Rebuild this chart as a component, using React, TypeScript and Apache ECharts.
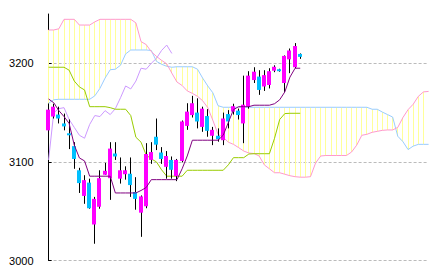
import React, { useEffect, useRef } from "react";
import * as echarts from "echarts";

// 75 sessions on the x axis: 50 candles + 25 sessions of the forward-shifted cloud
const days = [
  "1","2","3","4","5","6","7","8","9","10","11","12","13","14","15","16","17","18","19","20",
  "21","22","23","24","25","26","27","28","29","30","31","32","33","34","35","36","37","38","39","40",
  "41","42","43","44","45","46","47","48","49","50","51","52","53","54","55","56","57","58","59","60",
  "61","62","63","64","65","66","67","68","69","70","71","72","73","74","75",
];

const candleOpen = [3132, 3146, 3148, 3139, 3129, 3116, 3091.5, 3065.5, 3079, 3036.5, 3054.5, 3087, 3083.5, 3108.5, 3083, 3087.5, 3088, 3069.5, 3048.5, 3055, 3102, 3125.5, 3109.5, 3095, 3102, 3085.5, 3101, 3136.5, 3147.5, 3150, 3135.5, 3146.5, 3126.5, 3126.5, 3122, 3148.5, 3151, 3152, 3139, 3156, 3183, 3186.5, 3176.5, 3178, 3192.5, 3194, 3180, 3204, 3196, 3209.5];
const candleClose = [3153, 3156, 3144, 3136, 3127, 3103, 3078.5, 3081.5, 3053, 3062.5, 3083.5, 3091, 3113.5, 3105.5, 3091.5, 3091.5, 3076.5, 3062.5, 3065, 3108, 3110, 3117.5, 3103, 3106, 3092, 3102, 3141, 3151, 3159.5, 3141, 3154, 3131.5, 3132.5, 3123, 3144, 3141, 3156.5, 3147.5, 3158, 3187.5, 3191.5, 3173, 3188, 3192, 3196.5, 3192, 3207.5, 3213, 3217.5, 3206.5];
const candleLow = [3128, 3144, 3139, 3132, 3113, 3093, 3068.5, 3057.5, 3052.5, 3017, 3052.5, 3087, 3061.5, 3102, 3078, 3082, 3064.5, 3051.5, 3024, 3053, 3098, 3112, 3098, 3083, 3083, 3080.5, 3099.5, 3132.5, 3145, 3134, 3130.5, 3125.5, 3117, 3120.5, 3117, 3134, 3148, 3143, 3119, 3154, 3180, 3168, 3172, 3174.5, 3191, 3191.5, 3171, 3190, 3195, 3204.5];
const candleHigh = [3156, 3159, 3156, 3149, 3143, 3120, 3094, 3086.5, 3083, 3064.5, 3091.5, 3099, 3120, 3120, 3104.5, 3095.5, 3104.5, 3084.5, 3066, 3119, 3120, 3144, 3115, 3111, 3105.5, 3103, 3142, 3159.5, 3167, 3164.5, 3156, 3153.5, 3135.5, 3134, 3150, 3152.5, 3159, 3154, 3187.5, 3192, 3196, 3193, 3193, 3195, 3198, 3194.5, 3208, 3215, 3220.5, 3210];

// conversion line (purple)
const tenkan = [3163.8, 3160, 3152, 3146, 3139, 3117, 3104, 3101, 3085.5, 3085.5, 3085.5, 3085.5, 3085.5, 3068.5, 3068.5, 3068.5, 3068.5, 3068.5, 3071, 3074, 3082, 3082, 3082, 3082, 3082, 3082, 3093, 3106, 3122, 3122, 3122, 3122, 3122, 3122, 3127, 3140, 3153, 3156, 3156, 3156, 3157.5, 3157.5, 3157.5, 3157.5, 3159, 3163, 3171, 3186, 3195, 3195];
// base line (yellow-green)
const kijun = [3196, 3196, 3196, 3196, 3193, 3182, 3176, 3173, 3156, 3156, 3156, 3156, 3155, 3153.4, 3153.4, 3153.4, 3147, 3125, 3120, 3107, 3103, 3100, 3092, 3085.5, 3085.5, 3085.5, 3085.5, 3091.5, 3091.5, 3091.5, 3091.5, 3091.5, 3091.5, 3091.5, 3091.5, 3097, 3104.3, 3104.3, 3104.3, 3108, 3108.3, 3108.3, 3108.3, 3108.3, 3124, 3143, 3149, 3149.3, 3149.3, 3149.3];
// lagging span (lavender)
const chikou = [3102, 3150, 3154, 3155, 3143, 3135, 3127, 3124, 3138, 3147, 3146, 3152, 3148, 3154, 3165, 3177, 3174, 3182, 3195, 3194, 3200, 3205, 3213, 3218.5, 3210];
// leading span (light blue)
const spanA = [3159.5, 3163, 3163.5, 3163.5, 3163.5, 3163.5, 3163.5, 3163.5, 3163.5, 3167, 3174.6, 3185, 3193.5, 3194, 3198, 3209.5, 3213.5, 3213.5, 3213.5, 3213.5, 3213, 3202, 3199, 3197, 3196, 3196.5, 3196.5, 3196.5, 3196.5, 3194, 3185, 3177, 3170, 3157, 3155.4, 3155.4, 3155.4, 3155.4, 3155.4, 3155.4, 3155.4, 3155.4, 3155.4, 3155.4, 3155.4, 3155.4, 3155.4, 3155.4, 3155.4, 3155.4, 3155.4, 3155.4, 3155.4, 3155.4, 3155.4, 3155.4, 3155.4, 3155.4, 3155.4, 3155.4, 3155.4, 3155.4, 3155.4, 3153.4, 3153.4, 3150.5, 3148, 3145.5, 3126, 3120.5, 3112.5, 3116, 3117.8, 3117.8, 3117.8];
// leading span (pink)
const spanB = [3233.8, 3233.8, 3235, 3244.6, 3244.6, 3244.6, 3238.8, 3238.8, 3238.8, 3242, 3244.6, 3244.6, 3244.6, 3244.6, 3244.6, 3244.6, 3244.6, 3241, 3222, 3219, 3211.8, 3207, 3203, 3199.5, 3190, 3181, 3177.5, 3172, 3169.5, 3166.5, 3162, 3155, 3142, 3128, 3125, 3120, 3117.8, 3114.5, 3111, 3109, 3108.5, 3106, 3097, 3093, 3089, 3089, 3087.5, 3086, 3085, 3084.5, 3084.5, 3085, 3099, 3106, 3106.5, 3106.5, 3106.5, 3106.5, 3106.5, 3110, 3117, 3127, 3128, 3130, 3131, 3132, 3132.4, 3132.4, 3135, 3145, 3153, 3158.5, 3166.5, 3171, 3171.5];

const yTicks = [3000, 3100, 3200];

export default function App() {
  const ref = useRef<HTMLDivElement>(null);
  useEffect(() => {
    if (!ref.current) return;
    const chart = echarts.init(ref.current, null, { renderer: "svg" });

    const cloudData = spanA.slice(0, spanA.length - 1).map((a, i) => [i, a, spanB[i]]);
    const candleData = candleOpen.map((o, i) => [i, o, candleClose[i], candleLow[i], candleHigh[i]]);

    const lineSeries = (name: string, data: number[], color: string, z: number) => ({
      name,
      type: "line",
      data,
      symbol: "none",
      showSymbol: false,
      smooth: false,
      z,
      lineStyle: { color, width: 1 },
      emphasis: { disabled: true },
    });

    chart.setOption({
      animation: false,
      backgroundColor: "#ffffff",
      grid: { left: 48.6, right: 5.4, top: 14, bottom: 13.5, containLabel: false },
      xAxis: {
        type: "category",
        data: days,
        boundaryGap: false,
        show: false,
      },
      yAxis: {
        type: "value",
        min: 3000,
        max: 3250,
        interval: 100,
        axisLine: { show: true, lineStyle: { color: "#000000", width: 1 } },
        axisTick: {
          show: true,
          inside: true,
          length: 3,
          customValues: yTicks,
          lineStyle: { color: "#000000", width: 1 },
        },
        axisLabel: {
          show: true,
          customValues: yTicks,
          margin: 15,
          color: "#000000",
          fontSize: 11,
          fontFamily: "'Liberation Sans', Arial, sans-serif",
          formatter: (v: number) => String(v),
        },
        splitLine: {
          show: true,
          lineStyle: { color: "#bbbbbb", width: 1, type: [3, 2] },
        },
      },
      series: [
        {
          name: "cloud",
          type: "custom",
          z: 1,
          data: cloudData,
          renderItem: (params: any, api: any) => {
            const i = api.value(0);
            const p1 = api.coord([i, api.value(1)]);
            const p2 = api.coord([i, api.value(2)]);
            const x = Math.floor(p1[0]) + 0.5;
            return {
              type: "line",
              shape: { x1: x, y1: p1[1], x2: x, y2: p2[1] },
              style: { stroke: "#ffff99", lineWidth: 1 },
            };
          },
        },
        lineSeries("spanA", spanA, "#99ccff", 2),
        lineSeries("spanB", spanB, "#ff99cc", 2),
        lineSeries("chikou", chikou, "#cc99ff", 2),
        lineSeries("kijun", kijun, "#99cc00", 2),
        {
          name: "candles",
          type: "custom",
          z: 3,
          data: candleData,
          renderItem: (params: any, api: any) => {
            const i = api.value(0);
            const o = api.value(1);
            const c = api.value(2);
            const pO = api.coord([i, o]);
            const pC = api.coord([i, c]);
            const pL = api.coord([i, api.value(3)]);
            const pH = api.coord([i, api.value(4)]);
            const x = Math.floor(pO[0]);
            const top = Math.min(pO[1], pC[1]);
            const bot = Math.max(pO[1], pC[1]);
            const color = c >= o ? "#ff00ff" : "#00c0ff";
            return {
              type: "group",
              children: [
                {
                  type: "line",
                  shape: { x1: x + 0.5, y1: pH[1], x2: x + 0.5, y2: pL[1] },
                  style: { stroke: "#000000", lineWidth: 1 },
                },
                {
                  type: "rect",
                  shape: { x: x - 2, y: top, width: 4, height: Math.max(1.2, bot - top) },
                  style: { fill: color },
                },
              ],
            };
          },
        },
        lineSeries("tenkan", tenkan, "#800080", 4),
      ],
    });

    return () => chart.dispose();
  }, []);

  return (
    <div
      ref={ref}
      style={{ position: "fixed", left: 0, top: 0, width: 434, height: 274, background: "#ffffff" }}
    />
  );
}
